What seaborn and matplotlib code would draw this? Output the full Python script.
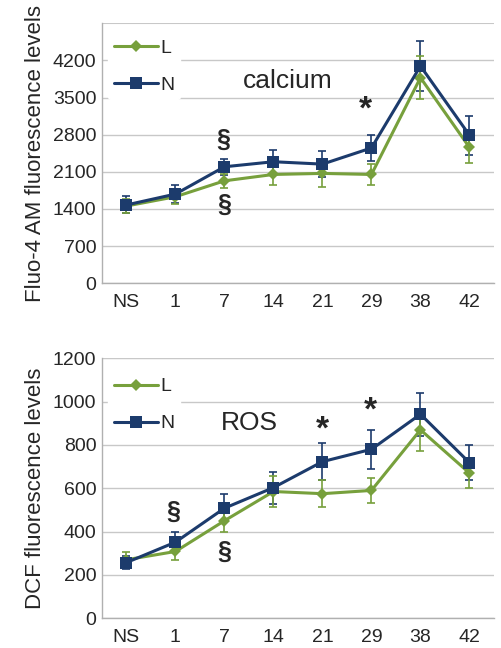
import pandas as pd
import seaborn as sns
import numpy as np
import matplotlib.pyplot as plt

days = ['NS', '1', '7', '14', '21', '29', '38', '42']

# calcium (Fluo-4 AM)
ca_L = [1455, 1630, 1930, 2050, 2070, 2050, 3875, 2560]
ca_L_err = [140, 140, 130, 200, 250, 200, 410, 300]
ca_N = [1475, 1680, 2195, 2290, 2245, 2550, 4095, 2790]
ca_N_err = [160, 170, 150, 230, 245, 250, 470, 370]
ca_ticks = [0, 700, 1400, 2100, 2800, 3500, 4200]

# ROS (DCF)
ros_L = [270, 308, 450, 585, 575, 590, 870, 670]
ros_L_err = [36, 39, 50, 70, 63, 58, 97, 69]
ros_N = [257, 351, 508, 603, 723, 780, 942, 718]
ros_N_err = [30, 45, 64, 74, 85, 89, 100, 82]
ros_ticks = [0, 200, 400, 600, 800, 1000, 1200]

green = '#77a03c'
navy = '#1c3b6c'

sns.set_style('white')
plt.rcParams['font.family'] = ['Liberation Sans', 'DejaVu Sans']

fig = plt.figure(figsize=(5.02, 6.48), dpi=100)
ax1 = fig.add_axes([0.203, 0.563, 0.781, 0.401])
ax2 = fig.add_axes([0.203, 0.046, 0.781, 0.401])


def draw(ax, L, Le, N, Ne, ymax, ticks, ylabel, title, tx, ty, leg_y):
    x = np.arange(len(days))
    df = pd.DataFrame({'x': np.concatenate([x, x]),
                       'y': N + L,
                       'group': ['N'] * len(x) + ['L'] * len(x)})
    ax.errorbar(x, N, yerr=Ne, fmt='none', ecolor=navy, elinewidth=1.2, capsize=3, capthick=1.2, zorder=2)
    ax.errorbar(x, L, yerr=Le, fmt='none', ecolor=green, elinewidth=1.2, capsize=3, capthick=1.2, zorder=2)
    sns.lineplot(data=df, x='x', y='y', hue='group', style='group',
                 palette={'L': green, 'N': navy}, markers={'L': 'D', 'N': 's'},
                 dashes=False, hue_order=['L', 'N'], lw=2.2, ax=ax, zorder=3,
                 markeredgewidth=0)
    for ln in ax.lines:
        if ln.get_marker() == 's':
            ln.set_markersize(9)
        elif ln.get_marker() == 'D':
            ln.set_markersize(6)
    ax.set_xlim(-0.5, 7.5)
    ax.set_ylim(0, ymax)
    ax.set_yticks(ticks)
    ax.set_xticks(x)
    ax.set_xticklabels(days)
    ax.set_xticks(np.arange(-0.5, 8, 1), minor=True)
    ax.tick_params(axis='x', which='major', length=0, labelsize=14, pad=8)
    ax.tick_params(axis='x', which='minor', length=4, color='#b0b0b0', direction='out')
    ax.tick_params(axis='y', length=0, labelsize=14, pad=4)
    ax.yaxis.grid(True, color='#c8c8c8', lw=1)
    ax.axhline(ymax, color='#c8c8c8', lw=1.5, zorder=1)
    for s in ['top', 'right']:
        ax.spines[s].set_visible(False)
    for s in ['left', 'bottom']:
        ax.spines[s].set_color('#b0b0b0')
        ax.spines[s].set_linewidth(1)
    ax.set_xlabel('')
    ax.set_ylabel(ylabel, fontsize=16, labelpad=5)
    ax.text(tx, ty, title, fontsize=19, ha='center', va='center')
    leg = ax.legend(loc='upper left', bbox_to_anchor=(0.0, leg_y), frameon=True, fontsize=14,
                    handlelength=2.3, handletextpad=0.1, labelspacing=1.0, borderpad=0.3,
                    borderaxespad=0.3)
    leg.get_frame().set_edgecolor('white')
    leg.get_frame().set_facecolor('white')
    leg.get_frame().set_alpha(1)
    leg.set_zorder(5)


draw(ax1, ca_L, ca_L_err, ca_N, ca_N_err, 4900, ca_ticks,
     'Fluo-4 AM fluorescence levels', 'calcium', 3.3, 3820, 0.985)
draw(ax2, ros_L, ros_L_err, ros_N, ros_N_err, 1200, ros_ticks,
     'DCF fluorescence levels', 'ROS', 2.5, 900, 0.97)

# significance marks
ax1.text(1.98, 2700, '§', fontsize=18, fontweight='bold', ha='center', va='center')
ax1.text(2.0, 1470, '§', fontsize=18, fontweight='bold', ha='center', va='center')
ax1.text(4.88, 3260, '*', fontsize=24, fontweight='bold', ha='center', va='center')
ax2.text(0.95, 490, '§', fontsize=18, fontweight='bold', ha='center', va='center')
ax2.text(2.0, 305, '§', fontsize=18, fontweight='bold', ha='center', va='center')
ax2.text(4.0, 870, '*', fontsize=24, fontweight='bold', ha='center', va='center')
ax2.text(4.97, 955, '*', fontsize=24, fontweight='bold', ha='center', va='center')

fig.savefig('out.png', dpi=100)
